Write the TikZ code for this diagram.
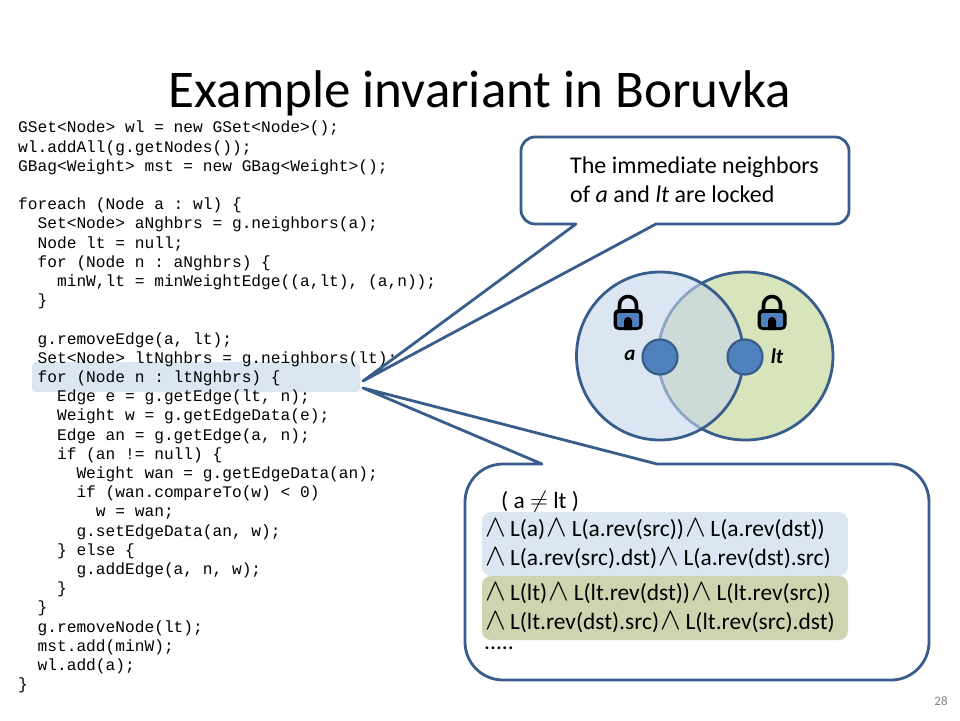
\documentclass[tikz,border=0pt]{standalone}
\usepackage{fontspec}
\setmainfont{Carlito}
\setmonofont{Liberation Mono}
\usetikzlibrary{positioning}
\definecolor{lineblue}{HTML}{385D8A}
\definecolor{nodeblue}{HTML}{4F81BD}
\definecolor{paleblue}{HTML}{DCE6F2}
\definecolor{leftfill}{HTML}{C5D5E9}
\definecolor{rightfill}{HTML}{D7E4BC}
\definecolor{boxgreen}{HTML}{CDD5B0}
\newcommand{\ind}[1]{\hspace*{#1\dimexpr0.6em\relax}}
\newcommand{\invfont}{\fontsize{23.4}{29}\selectfont}
\newcommand{\conj}{\scalebox{1.25}{$\wedge$}\hspace{-3.5pt}}
\newcommand{\andl}{\hspace{1.5pt}\conj}
\tikzset{
    balloon/.style={draw=lineblue,fill=white,line width=2.8pt,line join=round},
    setcircle/.style={draw=lineblue,line width=2.8pt},
    vertex/.style={circle,draw=lineblue,fill=nodeblue,line width=2.2pt,minimum size=35pt,inner sep=0pt},
    vertexlabel/.style={font=\fontsize{21}{25}\selectfont\bfseries\itshape},
    invbox/.style={rounded corners=9pt,minimum width=366pt,minimum height=64pt,text width=360pt,inner sep=3pt,align=left,font=\invfont},
    lockicon/.pic={
        \draw[line width=3.6pt,black] (-8.5,2) -- (-8.5,-8) arc[start angle=180,end angle=360,radius=8.5] -- (8.5,2);
        \fill[black,rounded corners=5pt] (-14.5,-4) rectangle (14.5,17);
        \fill[nodeblue,rounded corners=1.5pt] (-11,0) rectangle (11,14);
        \fill[black] (-4,17) -- (-4,8) arc[start angle=180,end angle=360,radius=4] -- (4,17) -- cycle;
    }
}
\begin{document}
\begin{tikzpicture}[x=1pt,y=-1pt]
    \useasboundingbox (0,0) rectangle (960,720);

    % Titolo
    \node[font=\fontsize{53}{60}\selectfont] (title) at (480,93) {Example invariant in Boruvka};
    \node[font=\fontsize{13}{15}\selectfont,gray] (pagenum) at (941,701) {28};

    % Codice
    \node[fill=paleblue,rounded corners=4pt,minimum width=328pt,minimum height=30pt,inner sep=0pt] (codemark) at (196,377) {};
    \node[anchor=north west,inner sep=0pt,align=left,font=\fontsize{16.2}{19.2}\ttfamily] (code) at (18,121) {%
GSet<Node> wl = new GSet<Node>();\\
wl.addAll(g.getNodes());\\
GBag<Weight> mst = new GBag<Weight>();\\
\mbox{}\\
foreach (Node a : wl) \{\\
\ind{2}Set<Node> aNghbrs = g.neighbors(a);\\
\ind{2}Node lt = null;\\
\ind{2}for (Node n : aNghbrs) \{\\
\ind{4}minW,lt = minWeightEdge((a,lt), (a,n));\\
\ind{2}\}\\
\mbox{}\\
\ind{2}g.removeEdge(a, lt);\\
\ind{2}Set<Node> ltNghbrs = g.neighbors(lt);\\
\ind{2}for (Node n : ltNghbrs) \{\\
\ind{4}Edge e = g.getEdge(lt, n);\\
\ind{4}Weight w = g.getEdgeData(e);\\
\ind{4}Edge an = g.getEdge(a, n);\\
\ind{4}if (an != null) \{\\
\ind{6}Weight wan = g.getEdgeData(an);\\
\ind{6}if (wan.compareTo(w) < 0)\\
\ind{8}w = wan;\\
\ind{6}g.setEdgeData(an, w);\\
\ind{4}\} else \{\\
\ind{6}g.addEdge(a, n, w);\\
\ind{4}\}\\
\ind{2}\}\\
\ind{2}g.removeNode(lt);\\
\ind{2}mst.add(minW);\\
\ind{2}wl.add(a);\\
\}};

    % Fumetto in alto
    \coordinate (uppertip) at (363,381);
    \coordinate (upperleft) at (576,224);
    \coordinate (upperright) at (656,224);
    \draw[balloon] (uppertip) -- (upperright) -- (835,224) arc[start angle=90,end angle=0,radius=14]
        -- (849,151) arc[start angle=0,end angle=-90,radius=14]
        -- (535,137) arc[start angle=-90,end angle=-180,radius=14]
        -- (521,210) arc[start angle=180,end angle=90,radius=14] -- (upperleft) -- cycle;
    \node[anchor=north west,inner sep=0pt,align=left,font=\fontsize{24}{29}\selectfont] (locktext) at (570,157)
        {The immediate neighbors\\of \textit{a} and \textit{lt} are locked};

    % Insiemi
    \draw[setcircle,fill=rightfill] (745.5,356) ellipse[x radius=87.5,y radius=84];
    \path[fill=leftfill,fill opacity=0.6] (660,356) ellipse[x radius=83.5,y radius=84];
    \draw[setcircle] (660,356) ellipse[x radius=83.5,y radius=84];
    \node[vertex] (a) at (660,357) {};
    \node[vertex] (lt) at (745,357) {};
    \node[vertexlabel] (alabel) at (630,355) {a};
    \node[vertexlabel] (ltlabel) at (777,356) {lt};
    \pic (locka) at (628,313) {lockicon};
    \pic (locklt) at (772,313) {lockicon};

    % Fumetto in basso
    \coordinate (lowertip) at (363,388);
    \coordinate (lowerleft) at (542,464);
    \coordinate (lowerright) at (657,464);
    \draw[balloon] (lowertip) -- (lowerright) -- (891,464) arc[start angle=-90,end angle=0,radius=38]
        -- (929,642) arc[start angle=0,end angle=90,radius=38]
        -- (503,680) arc[start angle=90,end angle=180,radius=38]
        -- (465,502) arc[start angle=180,end angle=270,radius=38] -- (lowerleft) -- cycle;
    \node[anchor=west,inner sep=0pt,font=\invfont] (neq) at (501,502) {( a $\neq$ lt )};
    \node[invbox,fill=paleblue] (ainv) at (665,544)
        {\conj{} L(a)\andl{} L(a.rev(src))\andl{} L(a.rev(dst))\\
         \conj{} L(a.rev(src).dst)\andl{} L(a.rev(dst).src)};
    \node[invbox,fill=boxgreen] (ltinv) at (665,608)
        {\conj{} L(lt)\andl{} L(lt.rev(dst))\andl{} L(lt.rev(src))\\
         \conj{} L(lt.rev(dst).src)\andl{} L(lt.rev(src).dst)};
    \node[anchor=west,inner sep=0pt,font=\invfont] (dots) at (484,648) {.....};
\end{tikzpicture}
\end{document}
